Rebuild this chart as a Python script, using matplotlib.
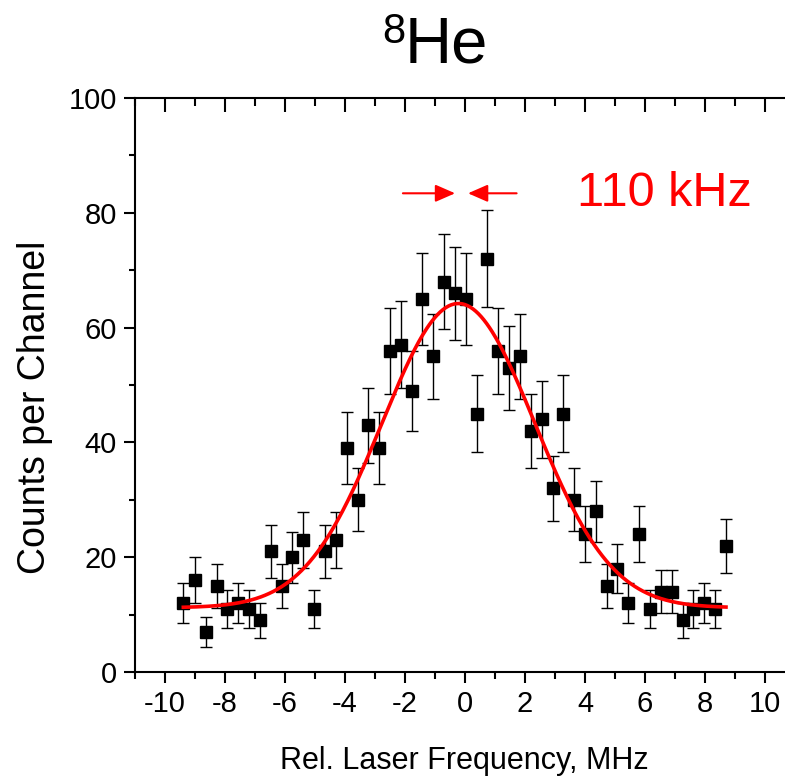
import numpy as np
import matplotlib.pyplot as plt

plt.rcParams['font.family'] = ['Liberation Sans', 'DejaVu Sans']
plt.rcParams['axes.unicode_minus'] = False

# measured spectrum (counts per channel vs. relative laser frequency, MHz)
freq = [-9.39, -9.00, -8.63, -8.28, -7.92, -7.57, -7.20, -6.83, -6.47, -6.11,
        -5.76, -5.40, -5.03, -4.67, -4.31, -3.94, -3.58, -3.23, -2.87, -2.50,
        -2.14, -1.78, -1.42, -1.07, -0.70, -0.33, 0.02, 0.39, 0.74, 1.11,
        1.47, 1.82, 2.20, 2.56, 2.92, 3.28, 3.63, 4.00, 4.36, 4.72,
        5.08, 5.44, 5.81, 6.17, 6.52, 6.89, 7.26, 7.61, 7.98, 8.33, 8.70]
counts = [12, 16, 7, 15, 11, 12, 11, 9, 21, 15,
          20, 23, 11, 21, 23, 39, 30, 43, 39, 56,
          57, 49, 65, 55, 68, 66, 65, 45, 72, 56,
          53, 55, 42, 44, 32, 45, 30, 24, 28, 15,
          18, 12, 24, 11, 14, 14, 9, 11, 12, 11, 22]

# gaussian fit parameters
fit_offset = 11.2
fit_amp = 53.0
fit_center = -0.22
fit_sigma = 2.55
fit_range = (-9.39, 8.70)

freq = np.array(freq)
counts = np.array(counts, dtype=float)
errs = np.sqrt(counts)  # poisson errors

fig = plt.figure(figsize=(7.85, 7.76), dpi=100)
# the original frame runs on past the right edge of the image
ax = fig.add_axes([0.172, 0.134, 0.828, 0.7397])

ax.errorbar(freq, counts, yerr=errs, fmt='s', color='black', ms=8,
            ecolor='black', elinewidth=1.0, capsize=4, capthick=1.0, zorder=3)

xf = np.linspace(fit_range[0], fit_range[1], 400)
yf = fit_offset + fit_amp * np.exp(-(xf - fit_center) ** 2 / (2 * fit_sigma ** 2))
ax.plot(xf, yf, color='red', lw=2.6, zorder=4)

# FWHM arrows
arr = dict(arrowstyle='-|>,head_length=0.8,head_width=0.35', color='red',
           lw=1.5, mutation_scale=15, shrinkA=0, shrinkB=0)
ax.annotate('', xy=(-0.33, 83.4), xytext=(-2.07, 83.4), arrowprops=arr)
ax.annotate('', xy=(0.10, 83.4), xytext=(1.72, 83.4), arrowprops=arr)
ax.text(3.72, 81.2, '110 kHz', color='red', fontsize=35, va='baseline', ha='left')

xlim = (-11, 10.667)
major_x = np.arange(-10, 11, 2)
minor_x = np.arange(-11, 10, 2)

ax.set_xlim(*xlim)
ax.set_ylim(0, 100)
ax.set_xticks(major_x)
ax.set_xticks(minor_x, minor=True)
ax.set_yticks(np.arange(0, 101, 20))
ax.set_yticks(np.arange(10, 100, 20), minor=True)

for s in ax.spines.values():
    s.set_linewidth(1.5)
ax.spines['right'].set_visible(False)
ax.spines['right'].set_color('none')

ax.tick_params(axis='both', which='major', direction='out', length=8, width=1.5,
               labelsize=21, pad=5)
ax.tick_params(axis='both', which='minor', direction='out', length=4, width=1.5)
ax.tick_params(axis='x', which='minor', length=5)

# top ticks point inward, bottom ones outward
top = ax.twiny()
top.set_xlim(*xlim)
top.set_xticks(major_x)
top.set_xticks(minor_x, minor=True)
top.tick_params(which='major', direction='in', length=10, width=1.5, labeltop=False)
top.tick_params(which='minor', direction='in', length=6, width=1.5)
top.tick_params(axis='y', left=False, right=False, labelleft=False, labelright=False)
for name, sp in top.spines.items():
    sp.set_visible(False)

ax.set_xlabel('Rel. Laser Frequency, MHz', fontsize=22)
ax.xaxis.set_label_coords(0.506, -0.129)
ax.set_ylabel('Counts per Channel', fontsize=27)
ax.yaxis.set_label_coords(-0.126, 0.461)

fig.text(0.515, 0.920, 'He', fontsize=47, ha='left', va='baseline')
fig.text(0.487, 0.9446, '8', fontsize=30, ha='left', va='baseline')

fig.savefig('out.png', dpi=100)
